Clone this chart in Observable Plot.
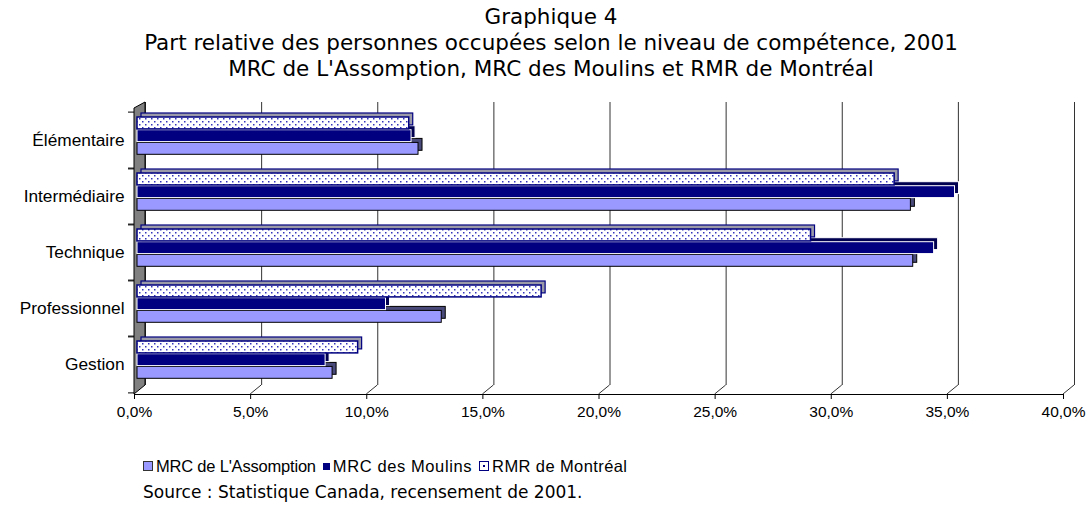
<!DOCTYPE html>
<html>
<head>
<meta charset="utf-8">
<script src="https://cdn.jsdelivr.net/npm/d3@7"></script>
<script src="https://cdn.jsdelivr.net/npm/@observablehq/plot@0.6"></script>
<style>
  body { margin: 0; background: #fff; width: 1090px; height: 511px; overflow: hidden; position: relative; }
  #chart { position: absolute; left: 0; top: 0; }
  #title { position: absolute; left: 0; top: 4px; width: 1102px; text-align: center;
           font-family: "DejaVu Sans", Verdana, sans-serif; font-size: 21.5px; line-height: 26px; color: #000; }
  #legend { position: absolute; left: 143px; top: 456px; font-family: "Liberation Sans", Arial, sans-serif;
            font-size: 16.5px; line-height: 20px; display: flex; align-items: center; color: #000; }
  #legend .sw { display: inline-block; box-sizing: border-box; margin-right: 3px; flex: none; }
  #legend .item { display: inline-flex; align-items: center; margin-right: 7px; }
  #source { position: absolute; left: 143px; top: 482px; font-family: "DejaVu Sans", Verdana, sans-serif;
            font-size: 17px; line-height: 20px; color: #000; }
</style>
</head>
<body>
<div id="chart"></div>
<div id="title"></div>
<div id="legend"></div>
<div id="source"></div>
<script>
// ---- data ----
const titleLines = [
  "Graphique 4",
  "Part relative des personnes occupées selon le niveau de compétence, 2001",
  "MRC de L'Assomption, MRC des Moulins et RMR de Montréal"
];
const categories = ["Élémentaire", "Intermédiaire", "Technique", "Professionnel", "Gestion"];
const seriesNames = ["MRC de L'Assomption", "MRC des Moulins", "RMR de Montréal"];
const assomption = [12.1, 33.3, 33.4, 13.1, 8.4];
const moulins    = [11.8, 35.2, 34.3, 10.7, 8.1];
const montreal   = [11.7, 32.6, 29.0, 17.4, 9.5];
const xTicks = [0, 5, 10, 15, 20, 25, 30, 35, 40];
const sourceText = "Source : Statistique Canada, recensement de 2001.";

// ---- build tables ----
const rows = (vals) => categories.map((c, i) => ({category: c, value: vals[i]}));
const dataA = rows(assomption), dataM = rows(moulins), dataR = rows(montreal);

const fmt = d => d.toFixed(1).replace(".", ",") + "%";
const band = (394 - 110) / categories.length;
const depth = 4;      // bar extrusion
const wallDepth = 11; // back wall offset
const shift = 3;      // bars sit slightly behind the front plane

// bar slots inside a band
const slotR = {insetTop: 5, insetBottom: band - 17.7};
const slotM = {insetTop: 17.7, insetBottom: band - 30.4};
const slotA = {insetTop: 30.4, insetBottom: band - 43.1};

function bar3d(data, slot, front, side) {
  return [
    Plot.barX(data, {x: "value", y: "category", ...slot, dx: shift + depth, dy: -depth, ...side}),
    Plot.barX(data, {x: "value", y: "category", ...slot, dx: shift, ...front})
  ];
}

const chart = Plot.plot({
  width: 1090,
  height: 440,
  marginTop: 110,
  marginBottom: 46,
  marginLeft: 134,
  marginRight: 27,
  style: {fontFamily: "'Liberation Sans', Arial, sans-serif", fontSize: "16px", background: "transparent"},
  x: {domain: [0, 40], ticks: xTicks, tickFormat: fmt, label: null},
  y: {domain: categories, padding: 0, label: null},
  marks: [
    // back-wall grid lines
    Plot.ruleX(xTicks, {stroke: "#333", strokeWidth: 1, dx: wallDepth, insetTop: -8, insetBottom: 9}),
    Plot.frame({anchor: "bottom", stroke: "#000"}),
    // bars
    ...bar3d(dataA, slotA, {fill: "#9999FF", stroke: "#000", strokeWidth: 1}, {fill: "#4a4a7a", stroke: "#000", strokeWidth: 1}),
    ...bar3d(dataM, slotM, {fill: "#000080", stroke: "#fff", strokeWidth: 1}, {fill: "#000050", stroke: "#fff", strokeWidth: 1}),
    ...bar3d(dataR, slotR, {fill: "url(#dots)", stroke: "#000080", strokeWidth: 1.5}, {fill: "#9a9aa8", stroke: "#000080", strokeWidth: 1.2}),
    // axes
    Plot.axisX({ticks: xTicks, tickFormat: fmt, tickSize: 5, tickPadding: 6, fontSize: 15.5, label: null}),
    Plot.axisY({tickSize: 0, tickPadding: 10, fontSize: 17.3, label: null}),
    Plot.axisY({tickSize: 6, text: null, dy: -band / 2, label: null}),
    Plot.axisY({tickSize: 6, text: null, dy: band / 2, label: null})
  ]
});

// dotted pattern
const ns = "http://www.w3.org/2000/svg";
const defs = document.createElementNS(ns, "defs");
defs.innerHTML = `<pattern id="dots" width="6" height="6" patternUnits="userSpaceOnUse">
  <rect width="6" height="6" fill="#fff"/>
  <rect x="1" y="1" width="1.5" height="1.5" fill="#3333bb"/>
  <rect x="4" y="4" width="1.5" height="1.5" fill="#3333bb"/>
</pattern>`;
chart.insertBefore(defs, chart.firstChild);

// 3D decorations (left wall and slanted grid feet) placed with the plot's own scales
const sx = chart.scale("x"), sy = chart.scale("y");
const xs = d3.scaleLinear(sx.domain, sx.range);
const [yTop, yBot] = [Math.min(...sy.range), Math.max(...sy.range)];
const x0 = xs(xTicks[0]);
const deco = document.createElementNS(ns, "g");
const sel = d3.select(deco);
sel.selectAll("line.foot").data(xTicks.slice(1)).join("line")
  .attr("x1", d => xs(d)).attr("y1", yBot)
  .attr("x2", d => xs(d) + wallDepth).attr("y2", yBot - 9)
  .attr("stroke", "#333");
sel.append("polygon")
  .attr("points", [[x0, yTop - 2], [x0 + wallDepth, yTop - 8], [x0 + wallDepth, yBot - 9], [x0, yBot]].map(p => p.join(",")).join(" "))
  .attr("fill", "#808080").attr("stroke", "#000").attr("stroke-width", 1);
const groups = chart.querySelectorAll(":scope > g");
chart.insertBefore(deco, groups[1]);

document.getElementById("chart").appendChild(chart);

// title
document.getElementById("title").innerHTML = titleLines.map(t => `<div>${t}</div>`).join("");

// legend
const swatches = [
  `<span class="sw" style="width:10px;height:10px;background:#9999FF;border:1.5px solid #333;"></span>`,
  `<span class="sw" style="width:7px;height:7px;background:#000080;"></span>`,
  `<span class="sw" style="width:10px;height:10px;border:1.5px solid #000080;background:#fff;position:relative;"><span style="position:absolute;left:3px;top:3px;width:2px;height:2px;background:#000080"></span></span>`
];
const spacing = ["-0.2px", "0.6px", "0.4px"];
document.getElementById("legend").innerHTML = seriesNames.map((s, i) =>
  `<span class="item">${swatches[i]}<span style="letter-spacing:${spacing[i]}">${s}</span></span>`).join("");
document.getElementById("source").textContent = sourceText;
</script>
</body>
</html>
